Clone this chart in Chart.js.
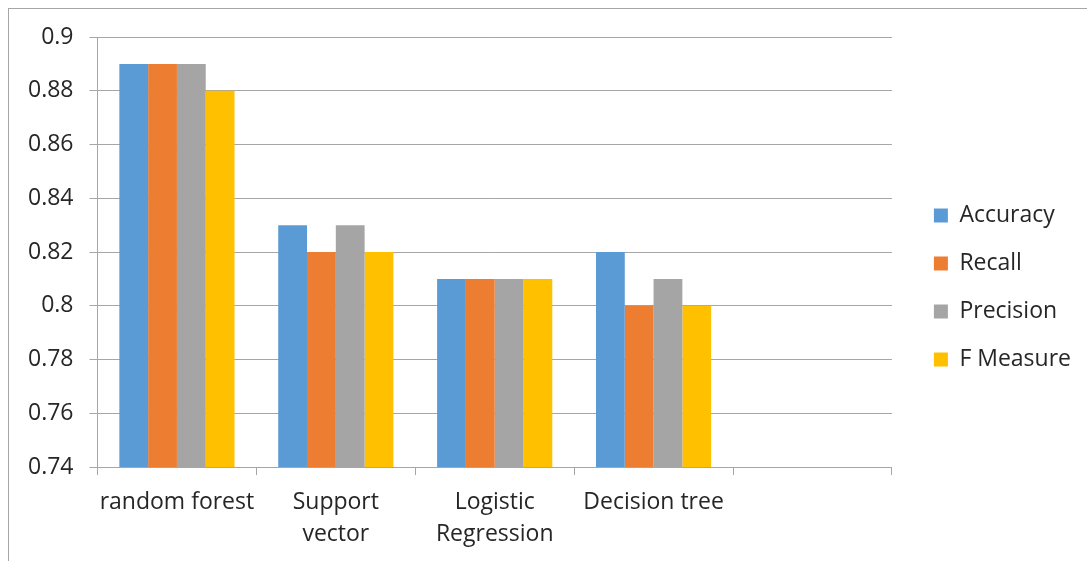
<!DOCTYPE html>
<html>
<head>
<meta charset="utf-8">
<script src="https://cdn.jsdelivr.net/npm/chart.js@4"></script>
<style>
  html, body { margin: 0; padding: 0; background: #fff; overflow: hidden; }
  #frame { position: absolute; left: 8px; top: 8px; width: 1200px; height: 700px; border: 1.5px solid #a6a6a6; }
  #wrap { position: absolute; left: 0; top: 0; width: 1087px; height: 561px; }
</style>
</head>
<body>
<div id="frame"></div>
<div id="wrap"><canvas id="scoreChart"></canvas></div>
<script>
// カテゴリと各指標の値
const categories = ['random forest', ['Support', 'vector'], ['Logistic', 'Regression'], 'Decision tree', ''];
const accuracy  = [0.89, 0.83, 0.81, 0.82, null];
const recall    = [0.89, 0.82, 0.81, 0.80, null];
const precision = [0.89, 0.83, 0.81, 0.81, null];
const fMeasure  = [0.88, 0.82, 0.81, 0.80, null];
const yMin = 0.74, yMax = 0.9, yStep = 0.02;

const font = { family: '"Open Sans", sans-serif', size: 23 };
const gridColor = '#a6a6a6';

const ctx = document.getElementById('scoreChart').getContext('2d');
new Chart(ctx, {
    type: 'bar',
    data: {
        labels: categories,
        datasets: [
            { label: 'Accuracy',  data: accuracy,  backgroundColor: '#5B9BD5' },
            { label: 'Recall',    data: recall,    backgroundColor: '#ED7D31' },
            { label: 'Precision', data: precision, backgroundColor: '#A5A5A5' },
            { label: 'F Measure', data: fMeasure,  backgroundColor: '#FFC000' }
        ]
    },
    options: {
        responsive: true,
        maintainAspectRatio: false,
        animation: false,
        datasets: {
            bar: { categoryPercentage: 0.725, barPercentage: 1.0, borderWidth: 0 }
        },
        layout: { padding: { left: 12, top: 14, right: 6, bottom: 0 } },
        plugins: {
            tooltip: { enabled: false },
            legend: {
                position: 'right',
                labels: {
                    font: font,
                    color: '#262626',
                    boxWidth: 14,
                    boxHeight: 14,
                    padding: 25
                }
            }
        },
        scales: {
            x: {
                offset: true,
                grid: { offset: true, drawOnChartArea: false, drawTicks: true, tickLength: 8, color: gridColor },
                border: { color: gridColor },
                ticks: { font: { ...font, lineHeight: 1.39 }, color: '#262626', maxRotation: 0, autoSkip: false, padding: 11 }
            },
            y: {
                min: yMin,
                max: yMax,
                grid: { color: gridColor, tickLength: 8 },
                border: { color: gridColor },
                ticks: {
                    stepSize: yStep,
                    font: font,
                    color: '#262626',
                    padding: 16,
                    callback: v => String(parseFloat(v.toFixed(2)))
                }
            },
            // 上の余白用の空き軸
            gapTop: {
                type: 'linear',
                axis: 'x',
                position: 'top',
                grid: { display: false },
                border: { display: false },
                ticks: { display: false },
                afterFit: s => { s.height = 23; }
            },
            // 凡例との隙間用の空き軸
            gap: {
                type: 'linear',
                axis: 'y',
                position: 'right',
                grid: { display: false },
                border: { display: false },
                ticks: { display: false },
                afterFit: s => { s.width = 17; }
            }
        }
    }
});
</script>
</body>
</html>
